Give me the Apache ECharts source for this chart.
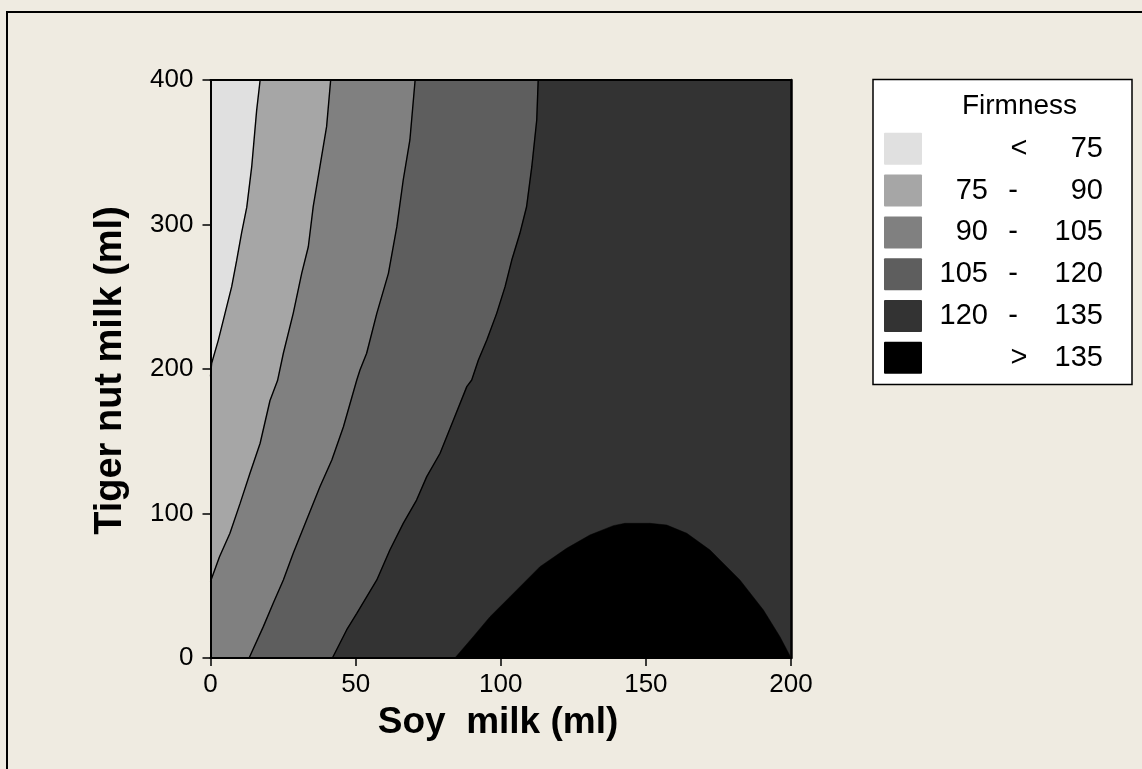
<!DOCTYPE html>
<html>
<head>
<meta charset="utf-8">
<script src="https://cdn.jsdelivr.net/npm/echarts@6/dist/echarts.min.js"></script>
<style>
html,body{margin:0;padding:0;background:#efebe1;}
#chart{width:1142px;height:769px;}
</style>
</head>
<body>
<div id="chart"></div>
<script>
// ---- data ----
const xTicks = [0, 50, 100, 150, 200];
const yTicks = [0, 100, 200, 300, 400];
const levelLabels = [["", "<", "75"], ["75", "-", "90"], ["90", "-", "105"], ["105", "-", "120"], ["120", "-", "135"], ["", ">", "135"]];
const levelColors = ["#e0e0e0", "#a6a6a6", "#808080", "#5e5e5e", "#333333", "#000000"];

// contour boundaries, [soy milk, tiger nut milk]
const c75 = [[0,195],[0.4,204],[2.7,220],[5.0,238.5],[7.3,257],[9.0,275],[10.7,294],[12.5,312],[14.2,340],[15.9,379],[17.1,400]];
const c90 = [[0,53],[3.1,70.1],[6.7,86.3],[10.2,107],[13.6,127.8],[17.1,148.6],[20.5,178.2],[23.1,192],[25.1,210.9],[28.5,238.5],[31.4,266],[33.7,284.6],[35.4,312.6],[37.7,340],[40.0,367.7],[41.4,400]];
const c105 = [[13.3,0],[13.6,0.9],[18.2,21.7],[21.6,37.9],[25.1,54],[28.5,72.5],[33.1,95.5],[37.7,118.5],[41.8,137],[45.8,160],[50.4,192.4],[51.5,199.3],[53.8,210.9],[57.3,238.5],[61.3,266.2],[64.2,298.5],[66.4,330.8],[68.7,358.5],[70.5,400]];
const c120 = [[42,0],[42.3,0.9],[46.9,19.4],[50.4,30.9],[57.3,54],[61.8,74.7],[66.4,93.2],[71.0,109.3],[74.5,125.5],[79.1,141.7],[83.7,164.7],[88.3,187.8],[90.0,192.4],[92.3,206.2],[95.2,220],[98.6,238.5],[101.5,257],[103.8,275.4],[106.6,293.9],[108.9,312.3],[110.7,340],[112.4,372.3],[112.9,400]];
const c135 = [[84.2,0],[90.5,14.7],[96.3,28.6],[103.2,42.4],[113.5,63.2],[122.7,75.9],[130.7,85.1],[138.8,91.6],[142.8,93.2],[151.4,93.2],[157.2,92.0],[164.1,86.3],[172.1,74.7],[182.4,54],[190.5,33.2],[196.2,14.7],[199.5,2.1],[200,0]];

// ---- build ----
const X_MAX = 200, Y_MAX = 400;
const regions = [
  { pts: c75.concat([[X_MAX, Y_MAX],[X_MAX, 0],[0, 0]]), color: levelColors[1] },
  { pts: c90.concat([[X_MAX, Y_MAX],[X_MAX, 0],[0, 0]]), color: levelColors[2] },
  { pts: c105.concat([[X_MAX, Y_MAX],[X_MAX, 0]]), color: levelColors[3] },
  { pts: c120.concat([[X_MAX, Y_MAX],[X_MAX, 0]]), color: levelColors[4] },
  { pts: c135, color: levelColors[5] }
];

const series = [];
regions.forEach((r, i) => {
  series.push({
    type: 'custom', coordinateSystem: 'cartesian2d', xAxisIndex: 0, yAxisIndex: 0,
    data: [[0, 0]], clip: true, silent: true, z: 2,
    renderItem: function (params, api) {
      return { type: 'polygon', shape: { points: r.pts.map(p => api.coord(p)) }, style: { fill: r.color, stroke: r.color, lineWidth: 0.5 } };
    }
  });
});
[c75, c90, c105, c120].forEach(c => {
  series.push({
    type: 'line', data: c, xAxisIndex: 0, yAxisIndex: 0, showSymbol: false, symbol: 'none',
    silent: true, z: 3, lineStyle: { color: '#000', width: 1.4 }, clip: true
  });
});

const FONT = '"Liberation Sans", Arial, sans-serif';
const graphics = [
  { type: 'rect', shape: { x: 7, y: 12, width: 1300, height: 900 }, style: { fill: null, stroke: '#000', lineWidth: 2 }, z: 100 },
  { type: 'text', x: 498, y: 723, style: { text: 'Soy  milk (ml)', font: 'bold 37px ' + FONT, fill: '#000', textAlign: 'center', textVerticalAlign: 'middle', align: 'center', verticalAlign: 'middle' } },
  { type: 'text', x: 111, y: 370.5, rotation: Math.PI / 2, style: { text: 'Tiger nut milk (ml)', font: 'bold 38px ' + FONT, fill: '#000', textAlign: 'center', textVerticalAlign: 'middle', align: 'center', verticalAlign: 'middle' } },
  { type: 'rect', shape: { x: 873, y: 79.5, width: 259, height: 305 }, style: { fill: '#fff', stroke: '#000', lineWidth: 1.5 } },
  { type: 'text', x: 1019.5, y: 106.5, style: { text: 'Firmness', font: '28px ' + FONT, fill: '#000', textAlign: 'center', textVerticalAlign: 'middle', align: 'center', verticalAlign: 'middle' } }
];
levelLabels.forEach((lab, i) => {
  const cy = 148.8 + i * 41.8;
  graphics.push({ type: 'rect', shape: { x: 884, y: cy - 16, width: 38, height: 32, r: 1 }, style: { fill: levelColors[i] } });
  graphics.push({ type: 'text', x: 988, y: cy, style: { text: lab[0], font: '29px ' + FONT, fill: '#000', textAlign: 'right', textVerticalAlign: 'middle', align: 'right', verticalAlign: 'middle' } });
  graphics.push({ type: 'text', x: lab[1] === '-' ? 1013 : 1019, y: cy, style: { text: lab[1], font: '29px ' + FONT, fill: '#000', textAlign: 'center', textVerticalAlign: 'middle', align: 'center', verticalAlign: 'middle' } });
  graphics.push({ type: 'text', x: 1103, y: cy, style: { text: lab[2], font: '29px ' + FONT, fill: '#000', textAlign: 'right', textVerticalAlign: 'middle', align: 'right', verticalAlign: 'middle' } });
});

const chart = echarts.init(document.getElementById('chart'), null, { renderer: 'canvas' });
chart.setOption({
  backgroundColor: '#efebe1',
  animation: false,
  grid: { left: 210.5, right: 351, top: 80, bottom: 111, show: true, backgroundColor: levelColors[0], borderWidth: 0 },
  xAxis: [
    { type: 'value', min: xTicks[0], max: xTicks[xTicks.length - 1], interval: 50, position: 'bottom', z: 10,
      axisLine: { show: true, onZero: false, lineStyle: { color: '#000', width: 2 } },
      axisTick: { show: true, inside: false, length: 8, lineStyle: { color: '#000', width: 1.5 } },
      axisLabel: { color: '#000', fontSize: 26, fontFamily: FONT, margin: 14 },
      splitLine: { show: false } },
    { type: 'value', min: 0, max: 200, position: 'top', z: 10,
      axisLine: { show: true, onZero: false, lineStyle: { color: '#000', width: 2 } },
      axisTick: { show: false }, axisLabel: { show: false }, splitLine: { show: false } }
  ],
  yAxis: [
    { type: 'value', min: yTicks[0], max: yTicks[yTicks.length - 1], interval: 100, position: 'left', z: 10,
      axisLine: { show: true, onZero: false, lineStyle: { color: '#000', width: 2 } },
      axisTick: { show: true, inside: false, length: 8, lineStyle: { color: '#000', width: 1.5 } },
      axisLabel: { color: '#000', fontSize: 26, fontFamily: FONT, margin: 17 },
      splitLine: { show: false } },
    { type: 'value', min: 0, max: 400, position: 'right', z: 10,
      axisLine: { show: true, onZero: false, lineStyle: { color: '#000', width: 2.5 } },
      axisTick: { show: false }, axisLabel: { show: false }, splitLine: { show: false } }
  ],
  series: series,
  graphic: graphics
});
</script>
</body>
</html>
